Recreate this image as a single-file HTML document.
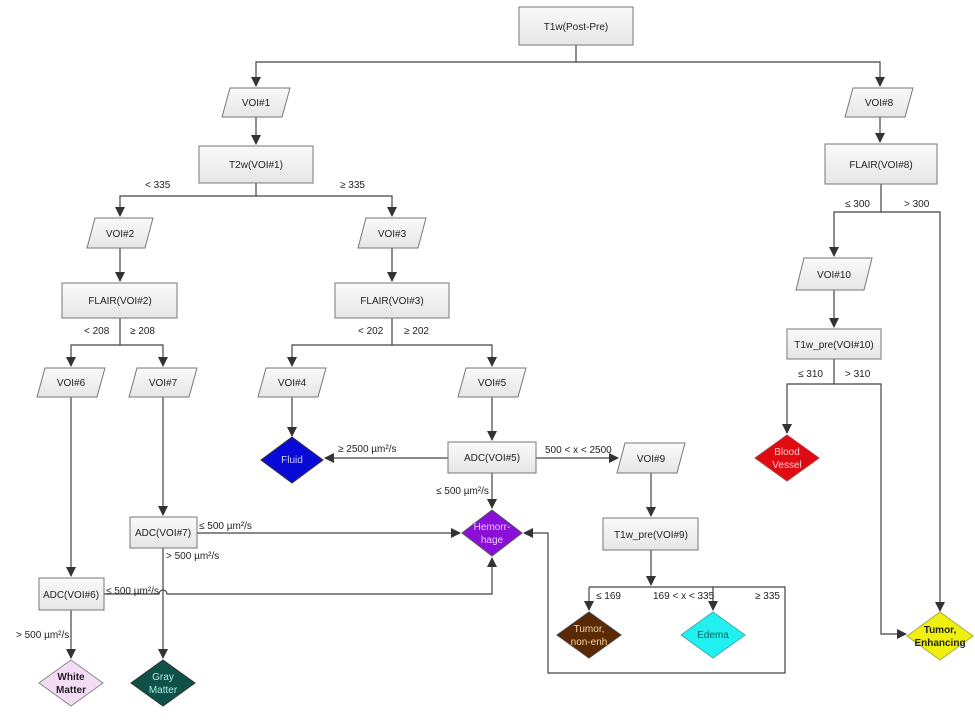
<!DOCTYPE html>
<html><head><meta charset="utf-8"><style>
html,body{margin:0;padding:0;background:#fff}
svg text{font-family:"Liberation Sans",sans-serif;font-size:10px;fill:#222}
</style></head><body>
<svg width="975" height="715" viewBox="0 0 975 715" xmlns="http://www.w3.org/2000/svg">
<defs>
<linearGradient id="g" x1="0" y1="0" x2="0" y2="1"><stop offset="0" stop-color="#fafafa"/><stop offset="1" stop-color="#e6e6e6"/></linearGradient>
<marker id="a" markerWidth="10" markerHeight="10" refX="9" refY="5" orient="auto" markerUnits="userSpaceOnUse"><path d="M0,0 L10,5 L0,10 Z" fill="#333"/></marker>
</defs>
<g fill="none" stroke="#444" stroke-width="1.2">
<!-- top -->
<path d="M576,45 V62 H256 V86" marker-end="url(#a)"/>
<path d="M576,62 H880 V86" marker-end="url(#a)"/>
<path d="M256,117 V144" marker-end="url(#a)"/>
<path d="M256,183 V196 H120 V216" marker-end="url(#a)"/>
<path d="M256,196 H392 V216" marker-end="url(#a)"/>
<path d="M120,248 V281" marker-end="url(#a)"/>
<path d="M392,248 V281" marker-end="url(#a)"/>
<path d="M120,318 V345 H71 V366" marker-end="url(#a)"/>
<path d="M120,345 H163 V366" marker-end="url(#a)"/>
<path d="M392,318 V345 H292 V366" marker-end="url(#a)"/>
<path d="M392,345 H492 V366" marker-end="url(#a)"/>
<path d="M292,397 V436" marker-end="url(#a)"/>
<path d="M492,397 V440" marker-end="url(#a)"/>
<path d="M448,458 H325" marker-end="url(#a)"/>
<path d="M536,458 H618" marker-end="url(#a)"/>
<path d="M492,473 V508" marker-end="url(#a)"/>
<path d="M163,397 V515" marker-end="url(#a)"/>
<path d="M197,533 H460" marker-end="url(#a)"/>
<path d="M163,548 V658" marker-end="url(#a)"/>
<path d="M71,397 V576" marker-end="url(#a)"/>
<path d="M104,594 H159 A4,4 0 0 1 167,594 H492 V558" marker-end="url(#a)"/>
<path d="M71,610 V658" marker-end="url(#a)"/>
<path d="M651,473 V516" marker-end="url(#a)"/>
<path d="M651,550 V585" marker-end="url(#a)"/>
<path d="M589,587 H785 V673 H548 V533 H524" marker-end="url(#a)"/>
<path d="M589,587 V610" marker-end="url(#a)"/>
<path d="M713,587 V610" marker-end="url(#a)"/>
<path d="M880,117 V142" marker-end="url(#a)"/>
<path d="M881,184 V212 H834 V256" marker-end="url(#a)"/>
<path d="M881,212 H940 V611" marker-end="url(#a)"/>
<path d="M834,290 V327" marker-end="url(#a)"/>
<path d="M834,359 V384 H787 V433" marker-end="url(#a)"/>
<path d="M834,384 H881 V634 H906" marker-end="url(#a)"/>
</g>
<g stroke="#777" stroke-width="1" fill="url(#g)">
<rect x="519" y="7" width="114" height="38"/>
<rect x="199" y="146" width="114" height="37"/>
<rect x="62" y="283" width="115" height="35"/>
<rect x="335" y="283" width="114" height="35"/>
<rect x="448" y="442" width="88" height="31"/>
<rect x="130" y="517" width="67" height="31"/>
<rect x="39" y="578" width="65" height="32"/>
<rect x="603" y="518" width="95" height="32"/>
<rect x="825" y="144" width="112" height="40"/>
<rect x="787" y="329" width="94" height="30"/>
<polygon points="230,88 290,88 282,117 222,117"/>
<polygon points="853,88 913,88 905,117 845,117"/>
<polygon points="95,218 153,218 145,248 87,248"/>
<polygon points="366,218 426,218 418,248 358,248"/>
<polygon points="45,368 105,368 97,397 37,397"/>
<polygon points="137,368 197,368 189,397 129,397"/>
<polygon points="266,368 326,368 318,397 258,397"/>
<polygon points="466,368 526,368 518,397 458,397"/>
<polygon points="625,443 685,443 677,473 617,473"/>
<polygon points="804,258 872,258 864,290 796,290"/>
</g>
<g stroke-width="1">
<polygon points="292,437 323,460 292,483 261,460" fill="#0a0ad8" stroke="#333"/>
<polygon points="492,510 522,533 492,556 462,533" fill="#8a0fd8" stroke="#555"/>
<polygon points="163,660 195,683 163,706 131,683" fill="#0f5048" stroke="#333"/>
<polygon points="71,660 103,683 71,706 39,683" fill="#f4dcf6" stroke="#888"/>
<polygon points="787,435 819,458 787,481 755,458" fill="#e00a12" stroke="#a44"/>
<polygon points="589,612 621,635 589,658 557,635" fill="#5a2a05" stroke="#444"/>
<polygon points="713,612 745,635 713,658 681,635" fill="#22f0f0" stroke="#4aa"/>
<polygon points="940,612 973,636 940,660 907,636" fill="#f0f010" stroke="#aa4"/>
</g>
<g text-anchor="middle">
<text x="576" y="30">T1w(Post-Pre)</text>
<text x="256" y="106">VOI#1</text>
<text x="879" y="106">VOI#8</text>
<text x="256" y="168">T2w(VOI#1)</text>
<text x="120" y="237">VOI#2</text>
<text x="392" y="237">VOI#3</text>
<text x="120" y="304">FLAIR(VOI#2)</text>
<text x="392" y="304">FLAIR(VOI#3)</text>
<text x="71" y="386">VOI#6</text>
<text x="163" y="386">VOI#7</text>
<text x="292" y="386">VOI#4</text>
<text x="492" y="386">VOI#5</text>
<text x="492" y="461">ADC(VOI#5)</text>
<text x="651" y="462">VOI#9</text>
<text x="163" y="536">ADC(VOI#7)</text>
<text x="71" y="598">ADC(VOI#6)</text>
<text x="651" y="538">T1w_pre(VOI#9)</text>
<text x="881" y="168">FLAIR(VOI#8)</text>
<text x="834" y="278">VOI#10</text>
<text x="834" y="348">T1w_pre(VOI#10)</text>
<text x="292" y="463" fill="#ccd" style="fill:#cfd0ff">Fluid</text>
<text x="492" y="530" style="fill:#f0c8ff">Hemorr-</text>
<text x="492" y="543" style="fill:#f0c8ff">hage</text>
<text x="163" y="680" style="fill:#a8f0e0">Gray</text>
<text x="163" y="693" style="fill:#a8f0e0">Matter</text>
<text x="71" y="680" style="font-weight:bold">White</text>
<text x="71" y="693" style="font-weight:bold">Matter</text>
<text x="787" y="455" style="fill:#fcc">Blood</text>
<text x="787" y="468" style="fill:#fcc">Vessel</text>
<text x="589" y="632" style="fill:#f5d5a8">Tumor,</text>
<text x="589" y="645" style="fill:#f5d5a8">non-enh</text>
<text x="713" y="638" style="fill:#066">Edema</text>
<text x="940" y="633" style="font-weight:bold">Tumor,</text>
<text x="940" y="646" style="font-weight:bold">Enhancing</text>
</g>
<g>
<text x="145" y="188">&lt; 335</text>
<text x="340" y="188">≥ 335</text>
<text x="84" y="334">&lt; 208</text>
<text x="130" y="334">≥ 208</text>
<text x="358" y="334">&lt; 202</text>
<text x="404" y="334">≥ 202</text>
<text x="338" y="452">≥ 2500 µm²/s</text>
<text x="545" y="453">500 &lt; x &lt; 2500</text>
<text x="436" y="494">≤ 500 µm²/s</text>
<text x="199" y="529">≤ 500 µm²/s</text>
<text x="166" y="559">&gt; 500 µm²/s</text>
<text x="106" y="594">≤ 500 µm²/s</text>
<text x="16" y="638">&gt; 500 µm²/s</text>
<text x="596" y="599">≤ 169</text>
<text x="653" y="599">169 &lt; x &lt; 335</text>
<text x="755" y="599">≥ 335</text>
<text x="845" y="207">≤ 300</text>
<text x="904" y="207">&gt; 300</text>
<text x="798" y="377">≤ 310</text>
<text x="845" y="377">&gt; 310</text>
</g>
</svg>
</body></html>
